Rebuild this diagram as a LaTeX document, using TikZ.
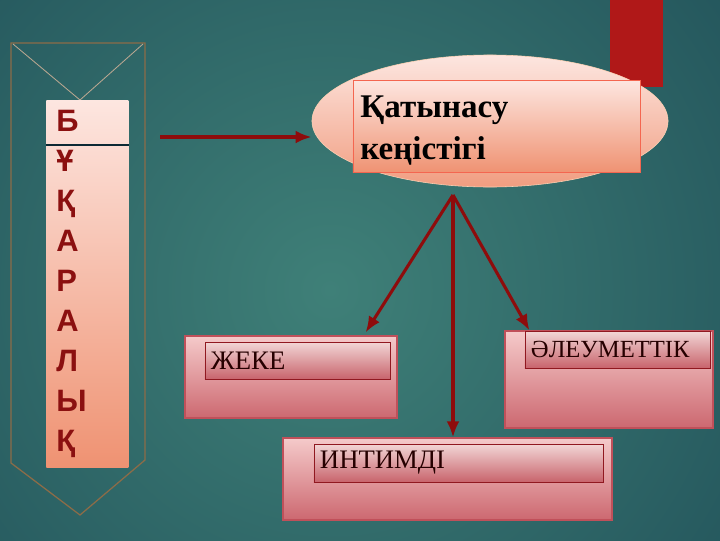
\documentclass[tikz,border=0pt]{standalone}
\usepackage{fontspec}
\setmainfont{Liberation Serif}
\newfontfamily\lettersfont{Liberation Sans}
\usetikzlibrary{arrows.meta,positioning,shapes.geometric,calc}

\definecolor{bgdark}{HTML}{123A4A}
\definecolor{bglight}{HTML}{3F8078}
\definecolor{cornerred}{HTML}{B01818}
\definecolor{arrowred}{HTML}{8E0C0C}
\definecolor{letterred}{HTML}{8B1010}
\definecolor{framebrown}{HTML}{8C6C48}
\definecolor{paletop}{HTML}{FDE6E0}
\definecolor{salmonbot}{HTML}{EF9272}
\definecolor{boxtop}{HTML}{F5CACA}
\definecolor{boxbot}{HTML}{CC6870}
\definecolor{boxedge}{HTML}{C0505A}
\definecolor{inntop}{HTML}{F2D6D6}
\definecolor{innbot}{HTML}{C8646C}
\definecolor{innedge}{HTML}{901820}

\begin{document}
\begin{tikzpicture}[
  x=0.025cm, y=-0.025cm,
  banner/.style={top color=paletop, bottom color=salmonbot, minimum width=2.05cm, minimum height=9.175cm,
    text width=1.55cm, inner xsep=0.25cm, align=left, text=letterred,
    font=\lettersfont\bfseries\fontsize{22}{28.5}\selectfont},
  outerbox/.style={draw=boxedge, line width=0.8pt, top color=boxtop, bottom color=boxbot, inner sep=0pt},
  labelbox/.style={draw=innedge, line width=0.6pt, top color=inntop, bottom color=innbot, inner xsep=0.15cm,
    align=left, text=black!85!red, font=\fontsize{19}{22}\selectfont},
  arrow/.style={-{Latex[length=4mm,width=3.2mm]}, line width=2.2pt, draw=arrowred}
]
\useasboundingbox (0,0) rectangle (720,540);
\fill[bgdark] (0,0) rectangle (720,540);
\begin{scope}
  \clip (0,0) rectangle (720,540);
  \shade[inner color=bglight, outer color=bgdark] (330,290) circle (840);
\end{scope}
\fill[cornerred] (610,0) rectangle (663,87);

% banner on the left
\draw[framebrown, line width=0.9pt] (11,43) -- (145,43) -- (145,460) -- (80,515) -- (11,463) -- cycle;
\draw[framebrown!60!white, line width=0.6pt] (13,44) -- (80,100) -- (143,44);
\node[banner, anchor=north west] (bar) at (46,100) {Б\\Ұ\\Қ\\А\\Р\\А\\Л\\Ы\\Қ};
\draw[bgdark!70!black, line width=0.8pt] (bar.west |- 0,145) -- (bar.east |- 0,145);

% top ellipse
\node[ellipse, draw=paletop!80!orange, top color=paletop, bottom color=salmonbot!90!white,
  minimum width=8.9cm, minimum height=3.3cm] (space) at (490,121) {};
\node[draw=salmonbot!70!red, top color=paletop, bottom color=salmonbot, minimum width=7.175cm,
  inner ysep=0pt, text height=26.2pt, text depth=39.6pt, text width=6.8cm, align=left,
  font=\bfseries\fontsize{23.5}{30.5}\selectfont]
  (title) at (496.5,126.5) {Қатынасу\\кеңістігі};

% three boxes
\node[outerbox, minimum width=5.3cm, minimum height=2.05cm] (zheke) at (291,377) {};
\node[labelbox, minimum width=4.625cm, minimum height=0.925cm, text width=4.325cm] (zhekelbl) at (297.5,360.5) {ЖЕКЕ};
\node[outerbox, minimum width=5.2cm, minimum height=2.425cm] (aleu) at (609,379.5) {};
\node[labelbox, minimum width=4.625cm, minimum height=0.925cm, text width=4.325cm,
  font=\fontsize{17.5}{20}\selectfont] (aleulbl) at (617.5,349.5) {ӘЛЕУМЕТТІК};
\node[outerbox, minimum width=8.225cm, minimum height=2.05cm] (intim) at (447.5,479) {};
\node[labelbox, minimum width=7.225cm, minimum height=0.95cm, text width=6.925cm] (intimlbl) at (458.5,463) {ИНТИМДІ};

% arrows
\coordinate (start) at (160,137);
\coordinate (hub) at (453,195);
\draw[arrow, line width=3pt] (start) -- (start -| space.west);
\draw[arrow] (hub) -- ($(zheke.north east)+(-32,-3)$);
\draw[arrow] (hub) -- (hub |- intim.north);
\draw[arrow] (hub) -- ($(aleu.north west)+(25,0)$);
\end{tikzpicture}
\end{document}
